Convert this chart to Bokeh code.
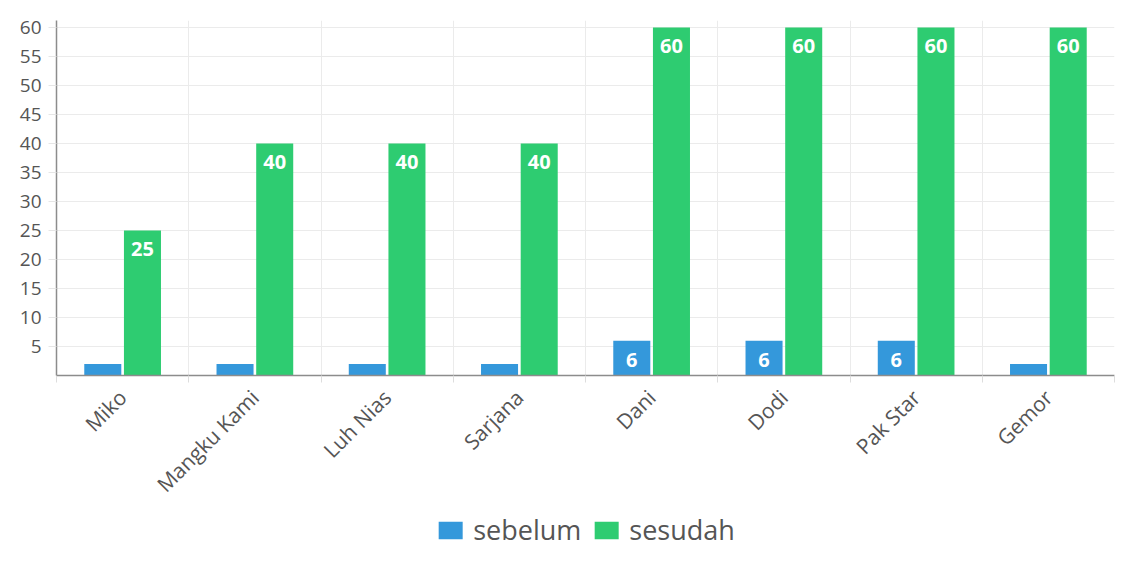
from bokeh.plotting import figure
from bokeh.models import (ColumnDataSource, FixedTicker, LabelSet, Legend,
                          LegendItem, Range1d)
from bokeh.core.properties import value
from bokeh.transform import dodge
from bokeh.layouts import column
from bokeh.embed import file_html
from bokeh.resources import INLINE
from math import pi

categories = ["Miko", "Mangku Kami", "Luh Nias", "Sarjana", "Dani", "Dodi", "Pak Star", "Gemor"]
sebelum = [2, 2, 2, 2, 6, 6, 6, 2]
sesudah = [25, 40, 40, 40, 60, 60, 60, 60]
y_ticks = [5, 10, 15, 20, 25, 30, 35, 40, 45, 50, 55, 60]
series_names = ["sebelum", "sesudah"]

BLUE = "#3498db"
GREEN = "#2ecc71"
FONT = "Open Sans"

W = 1116
H_MAIN = 510
H_LEG = 38

pos = [i + 0.5 for i in range(len(categories))]
src = ColumnDataSource(dict(
    pos=pos, cat=categories, sebelum=sebelum, sesudah=sesudah,
    sebelum_txt=[str(v) for v in sebelum], sesudah_txt=[str(v) for v in sesudah],
))

p = figure(width=W, height=H_MAIN,
           x_range=Range1d(0, len(categories)), y_range=Range1d(0, 61.2),
           output_backend="svg", toolbar_location=None,
           min_border_left=56, min_border_right=2, min_border_top=20,
           min_border_bottom=H_MAIN - 375)
p.outline_line_color = None
p.background_fill_color = "white"
p.border_fill_color = "white"

r1 = p.vbar(x=dodge("pos", -0.15, range=p.x_range), top="sebelum", width=0.28,
            source=src, fill_color=BLUE, line_color=None)
r2 = p.vbar(x=dodge("pos", 0.15, range=p.x_range), top="sesudah", width=0.28,
            source=src, fill_color=GREEN, line_color=None)

for col, off in (("sebelum", -0.15), ("sesudah", 0.15)):
    lbl = LabelSet(x=dodge("pos", off, range=p.x_range), y=col, text=col + "_txt",
                   source=src, text_color="white", text_font=value(FONT),
                   text_font_size="20px", text_font_style="bold",
                   text_align="center", text_baseline="middle", y_offset=-19)
    p.add_layout(lbl)

# x axis
xax = p.xaxis[0]
xax.ticker = FixedTicker(ticks=pos, minor_ticks=list(range(len(categories) + 1)))
xax.major_label_overrides = {pp: c for pp, c in zip(pos, categories)}
xax.major_label_orientation = pi / 4
xax.major_tick_out = 0
xax.major_tick_in = 0
xax.minor_tick_out = 7
xax.minor_tick_in = 0
xax.minor_tick_line_color = "#dddddd"
xax.axis_line_color = "#8c8c8c"
xax.axis_line_width = 1.5
xax.major_label_text_font = FONT
xax.major_label_text_font_size = "21px"
xax.major_label_text_color = "#555555"
xax.major_label_standoff = 11

# y axis
yax = p.yaxis[0]
yax.ticker = FixedTicker(ticks=y_ticks)
yax.major_tick_out = 8
yax.major_tick_in = 0
yax.major_tick_line_color = "#e6e6e6"
yax.minor_tick_line_color = None
yax.axis_line_color = "#8c8c8c"
yax.axis_line_width = 1.5
yax.major_label_text_font = FONT
yax.major_label_text_font_size = "19px"
yax.major_label_text_color = "#555555"
yax.major_label_standoff = 7

p.xgrid.ticker = FixedTicker(ticks=list(range(1, len(categories))))
p.xgrid.grid_line_color = "#ebebeb"
p.ygrid.grid_line_color = "#ebebeb"

# legend strip (separate small figure below the chart); its bars have zero
# width, so only the legend swatches show
lg = figure(width=W, height=H_LEG, x_range=Range1d(0, len(categories)),
            y_range=Range1d(0, 61.2),
            output_backend="svg", toolbar_location=None,
            x_axis_type=None, y_axis_type=None,
            min_border_left=56, min_border_right=2, min_border_top=0,
            min_border_bottom=0)
lg.outline_line_color = None
lg.xgrid.visible = False
lg.ygrid.visible = False
d1 = lg.vbar(x="pos", top="sebelum", width=0, source=src,
             fill_color=BLUE, line_color=None)
d2 = lg.vbar(x="pos", top="sesudah", width=0, source=src,
             fill_color=GREEN, line_color=None)

legend = Legend(items=[LegendItem(label=series_names[0], renderers=[d1]),
                       LegendItem(label=series_names[1], renderers=[d2])],
                location="bottom", orientation="horizontal",
                glyph_width=30, glyph_height=22, label_standoff=8, spacing=10,
                padding=0, margin=0, border_line_color=None,
                background_fill_alpha=0,
                label_text_font=FONT, label_text_font_size="27px",
                label_text_color="#555555", label_height=22)
lg.add_layout(legend, "center")

layout = column(p, lg, spacing=0)
open("out.html", "w").write(file_html(layout, INLINE))
